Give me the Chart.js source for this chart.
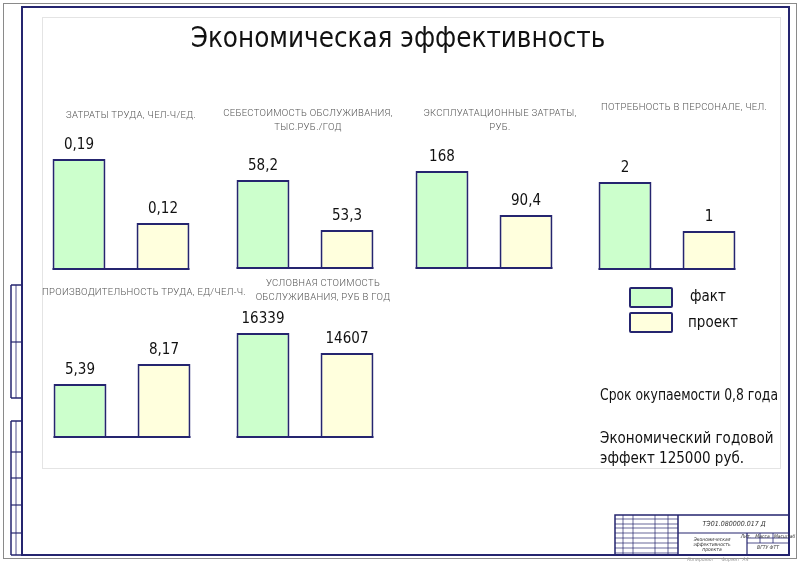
<!DOCTYPE html>
<html>
<head>
<meta charset="utf-8">
<script src="https://cdn.jsdelivr.net/npm/chart.js@4.4.1/dist/chart.umd.min.js"></script>
<style>
    body {
        margin: 0;
        width: 800px;
        height: 563px;
        position: relative;
        overflow: hidden;
        background: #fff;
        font-family: "DejaVu Sans Condensed", "Liberation Sans Narrow", "DejaVu Sans", sans-serif;
        color: #111;
    }
    #frame { position: absolute; left: 0; top: 0; }
    .chart-box { position: absolute; width: 168px; height: 162px; }
    .label { position: absolute; white-space: nowrap; }
    .narrow { transform: scaleX(0.9); transform-origin: left top; }
    .ctitle {
        position: absolute;
        width: 300px;
        text-align: center;
        font-family: Roboto, "DejaVu Sans Condensed", sans-serif;
        font-weight: 300;
        font-size: 9.5px;
        letter-spacing: 0.3px;
        line-height: 14px;
        color: #555;
    }
    .legend-box {
        position: absolute;
        width: 40px;
        height: 17px;
        border: 2px solid #25256f;
        border-radius: 2px;
    }
</style>
</head>
<body>
<canvas id="frame" width="800" height="563"></canvas>

<div class="label" style="left:0;width:796px;top:21px;text-align:center;font-size:27.5px;font-weight:300;">Экономическая эффективность</div>

<div id="charts"></div>

<div class="legend-box" style="left:629px;top:287px;background:#ccffcc;"></div>
<div class="legend-box" style="left:629px;top:312px;background:#ffffdd;"></div>
<div class="label" style="left:690px;top:287px;font-size:15px;" id="leg0"></div>
<div class="label" style="left:688px;top:313px;font-size:15px;" id="leg1"></div>

<div class="label narrow" style="left:600px;top:386px;font-size:15.3px;">Срок окупаемости 0,8 года</div>
<div class="label" style="left:600px;top:428px;font-size:15px;line-height:20px;">Экономический годовой<br>эффект 125000 руб.</div>

<script>
// ---- data ----
const seriesNames = ['факт', 'проект'];
const chartTitles = [
    ['ЗАТРАТЫ ТРУДА, ЧЕЛ-Ч/ЕД.'],
    ['СЕБЕСТОИМОСТЬ ОБСЛУЖИВАНИЯ,', 'ТЫС.РУБ./ГОД'],
    ['ЭКСПЛУАТАЦИОННЫЕ ЗАТРАТЫ,', 'РУБ.'],
    ['ПОТРЕБНОСТЬ В ПЕРСОНАЛЕ, ЧЕЛ.'],
    ['ПРОИЗВОДИТЕЛЬНОСТЬ ТРУДА, ЕД/ЧЕЛ-Ч.'],
    ['УСЛОВНАЯ СТОИМОСТЬ', 'ОБСЛУЖИВАНИЯ, РУБ В ГОД']
];
const factValues = [0.19, 58.2, 168, 2, 5.39, 16339];
const projectValues = [0.12, 53.3, 90.4, 1, 8.17, 14607];
// value axis range of each small chart (the drawing does not start bars at zero)
const yMin = [0.0686, 49.48, -4.8, 0.204, -2.12, 7246];
const yMax = [0.2108, 62.2, 224.5, 2.857, 15.96, 18501];

// ---- layout ----
const navy = '#25256f';
const fills = ['#ccffcc', '#ffffdd'];
const boxes = [
    { left: 37, bottom: 272, title: { cx: 131, top: 108 } },
    { left: 221, bottom: 271, title: { cx: 308, top: 106 } },
    { left: 400, bottom: 271, title: { cx: 500, top: 106 } },
    { left: 583, bottom: 272, title: { cx: 684, top: 100 } },
    { left: 38, bottom: 440, title: { cx: 144, top: 285 } },
    { left: 221, bottom: 440, title: { cx: 323, top: 276 } }
];

document.getElementById('leg0').textContent = seriesNames[0];
document.getElementById('leg1').textContent = seriesNames[1];

// ---- drawing frame ----
(function drawFrame() {
    const ctx = document.getElementById('frame').getContext('2d');
    function line(x1, y1, x2, y2, w, c) {
        ctx.strokeStyle = c;
        ctx.lineWidth = w;
        ctx.beginPath();
        ctx.moveTo(x1, y1);
        ctx.lineTo(x2, y2);
        ctx.stroke();
    }
    ctx.strokeStyle = '#8a8a8a';
    ctx.lineWidth = 1;
    ctx.strokeRect(3.5, 3.5, 793, 555);
    ctx.strokeStyle = '#e4e4e4';
    ctx.strokeRect(42.5, 17.5, 738, 451);
    ctx.strokeStyle = navy;
    ctx.lineWidth = 2;
    ctx.strokeRect(22, 7, 767, 548);

    // left stamp strip
    [[285, 398, [342]], [421, 555, [452, 478, 505, 533]]].forEach(g => {
        line(11, g[0], 11, g[1], 1.5, navy);
        line(16, g[0], 16, g[1], 0.8, navy);
        line(11, g[0], 22, g[0], 1.5, navy);
        line(11, g[1], 22, g[1], 1.5, navy);
        g[2].forEach(y => line(11, y, 22, y, 1.2, navy));
    });

    // title block
    ctx.lineWidth = 1.5;
    ctx.strokeRect(615, 515, 174, 40);
    line(678, 515, 678, 555, 1.5, navy);
    line(678, 533, 789, 533, 1.2, navy);
    line(747, 533, 747, 555, 1.2, navy);
    [538, 543].forEach(y => line(747, y, 789, y, 0.8, navy));
    [760, 773].forEach(x => line(x, 533, x, 543, 0.8, navy));
    [519, 524, 528, 533, 538, 543, 548, 553].forEach(y => line(615, y, 678, y, 0.7, navy));
    [623, 633, 655, 668].forEach(x => line(x, 515, x, 555, 0.7, navy));

    ctx.fillStyle = '#333';
    ctx.font = 'italic 7px "DejaVu Sans Condensed", sans-serif';
    ctx.textAlign = 'center';
    ctx.fillText('ТЭ01.080000.017 Д', 734, 526);
    ctx.font = 'italic 5px "DejaVu Sans Condensed", sans-serif';
    ctx.fillText('Экономическая', 712, 541);
    ctx.fillText('эффективность', 712, 546);
    ctx.fillText('проекта', 712, 551);
    ctx.fillText('ВГТУ ФТТ', 768, 549);
    ctx.fillText('Лит.   Масса   Масштаб', 768, 538);
    ctx.fillStyle = '#999';
    ctx.fillText('Формат  A4', 735, 561);
    ctx.fillText('Копировал', 700, 561);
})();

// ---- bar extras: joined baseline and value labels ----
function fmt(v) {
    return String(v).replace('.', ',');
}

const barExtras = {
    id: 'barExtras',
    afterDatasetsDraw(chart) {
        const ctx = chart.ctx;
        const bars = chart.getDatasetMeta(0).data;
        const area = chart.chartArea;
        ctx.save();
        ctx.strokeStyle = navy;
        ctx.lineWidth = 2;
        ctx.beginPath();
        ctx.moveTo(bars[0].x - bars[0].width / 2, area.bottom - 1);
        ctx.lineTo(bars[1].x + bars[1].width / 2, area.bottom - 1);
        ctx.stroke();
        ctx.fillStyle = '#111';
        ctx.font = '15px "DejaVu Sans Condensed", "Liberation Sans Narrow", sans-serif';
        ctx.textAlign = 'center';
        ctx.textBaseline = 'alphabetic';
        bars.forEach((b, i) => {
            ctx.fillText(fmt(chart.data.datasets[0].data[i]), b.x, b.y - 10);
        });
        ctx.restore();
    }
};

const holder = document.getElementById('charts');
boxes.forEach((box, i) => {
    const div = document.createElement('div');
    div.className = 'chart-box';
    div.style.left = box.left + 'px';
    div.style.top = (box.bottom - 162) + 'px';
    const canvas = document.createElement('canvas');
    canvas.width = 168;
    canvas.height = 162;
    div.appendChild(canvas);
    holder.appendChild(div);

    const t = document.createElement('div');
    t.className = 'ctitle';
    t.style.left = (box.title.cx - 150) + 'px';
    t.style.top = box.title.top + 'px';
    t.innerHTML = chartTitles[i].join('<br>');
    holder.appendChild(t);

    new Chart(canvas, {
        type: 'bar',
        data: {
            labels: seriesNames,
            datasets: [{
                data: [factValues[i], projectValues[i]],
                base: yMin[i],
                backgroundColor: fills,
                borderColor: navy,
                borderWidth: 2,
                borderSkipped: false,
                categoryPercentage: 1,
                barPercentage: 0.63
            }]
        },
        options: {
            responsive: false,
            animation: false,
            layout: { padding: { top: 30, bottom: 2, left: 0, right: 0 } },
            plugins: {
                legend: { display: false },
                tooltip: { enabled: false }
            },
            scales: {
                x: { display: false },
                y: { display: false, min: yMin[i], max: yMax[i] }
            }
        },
        plugins: [barExtras]
    });
});
</script>
</body>
</html>
